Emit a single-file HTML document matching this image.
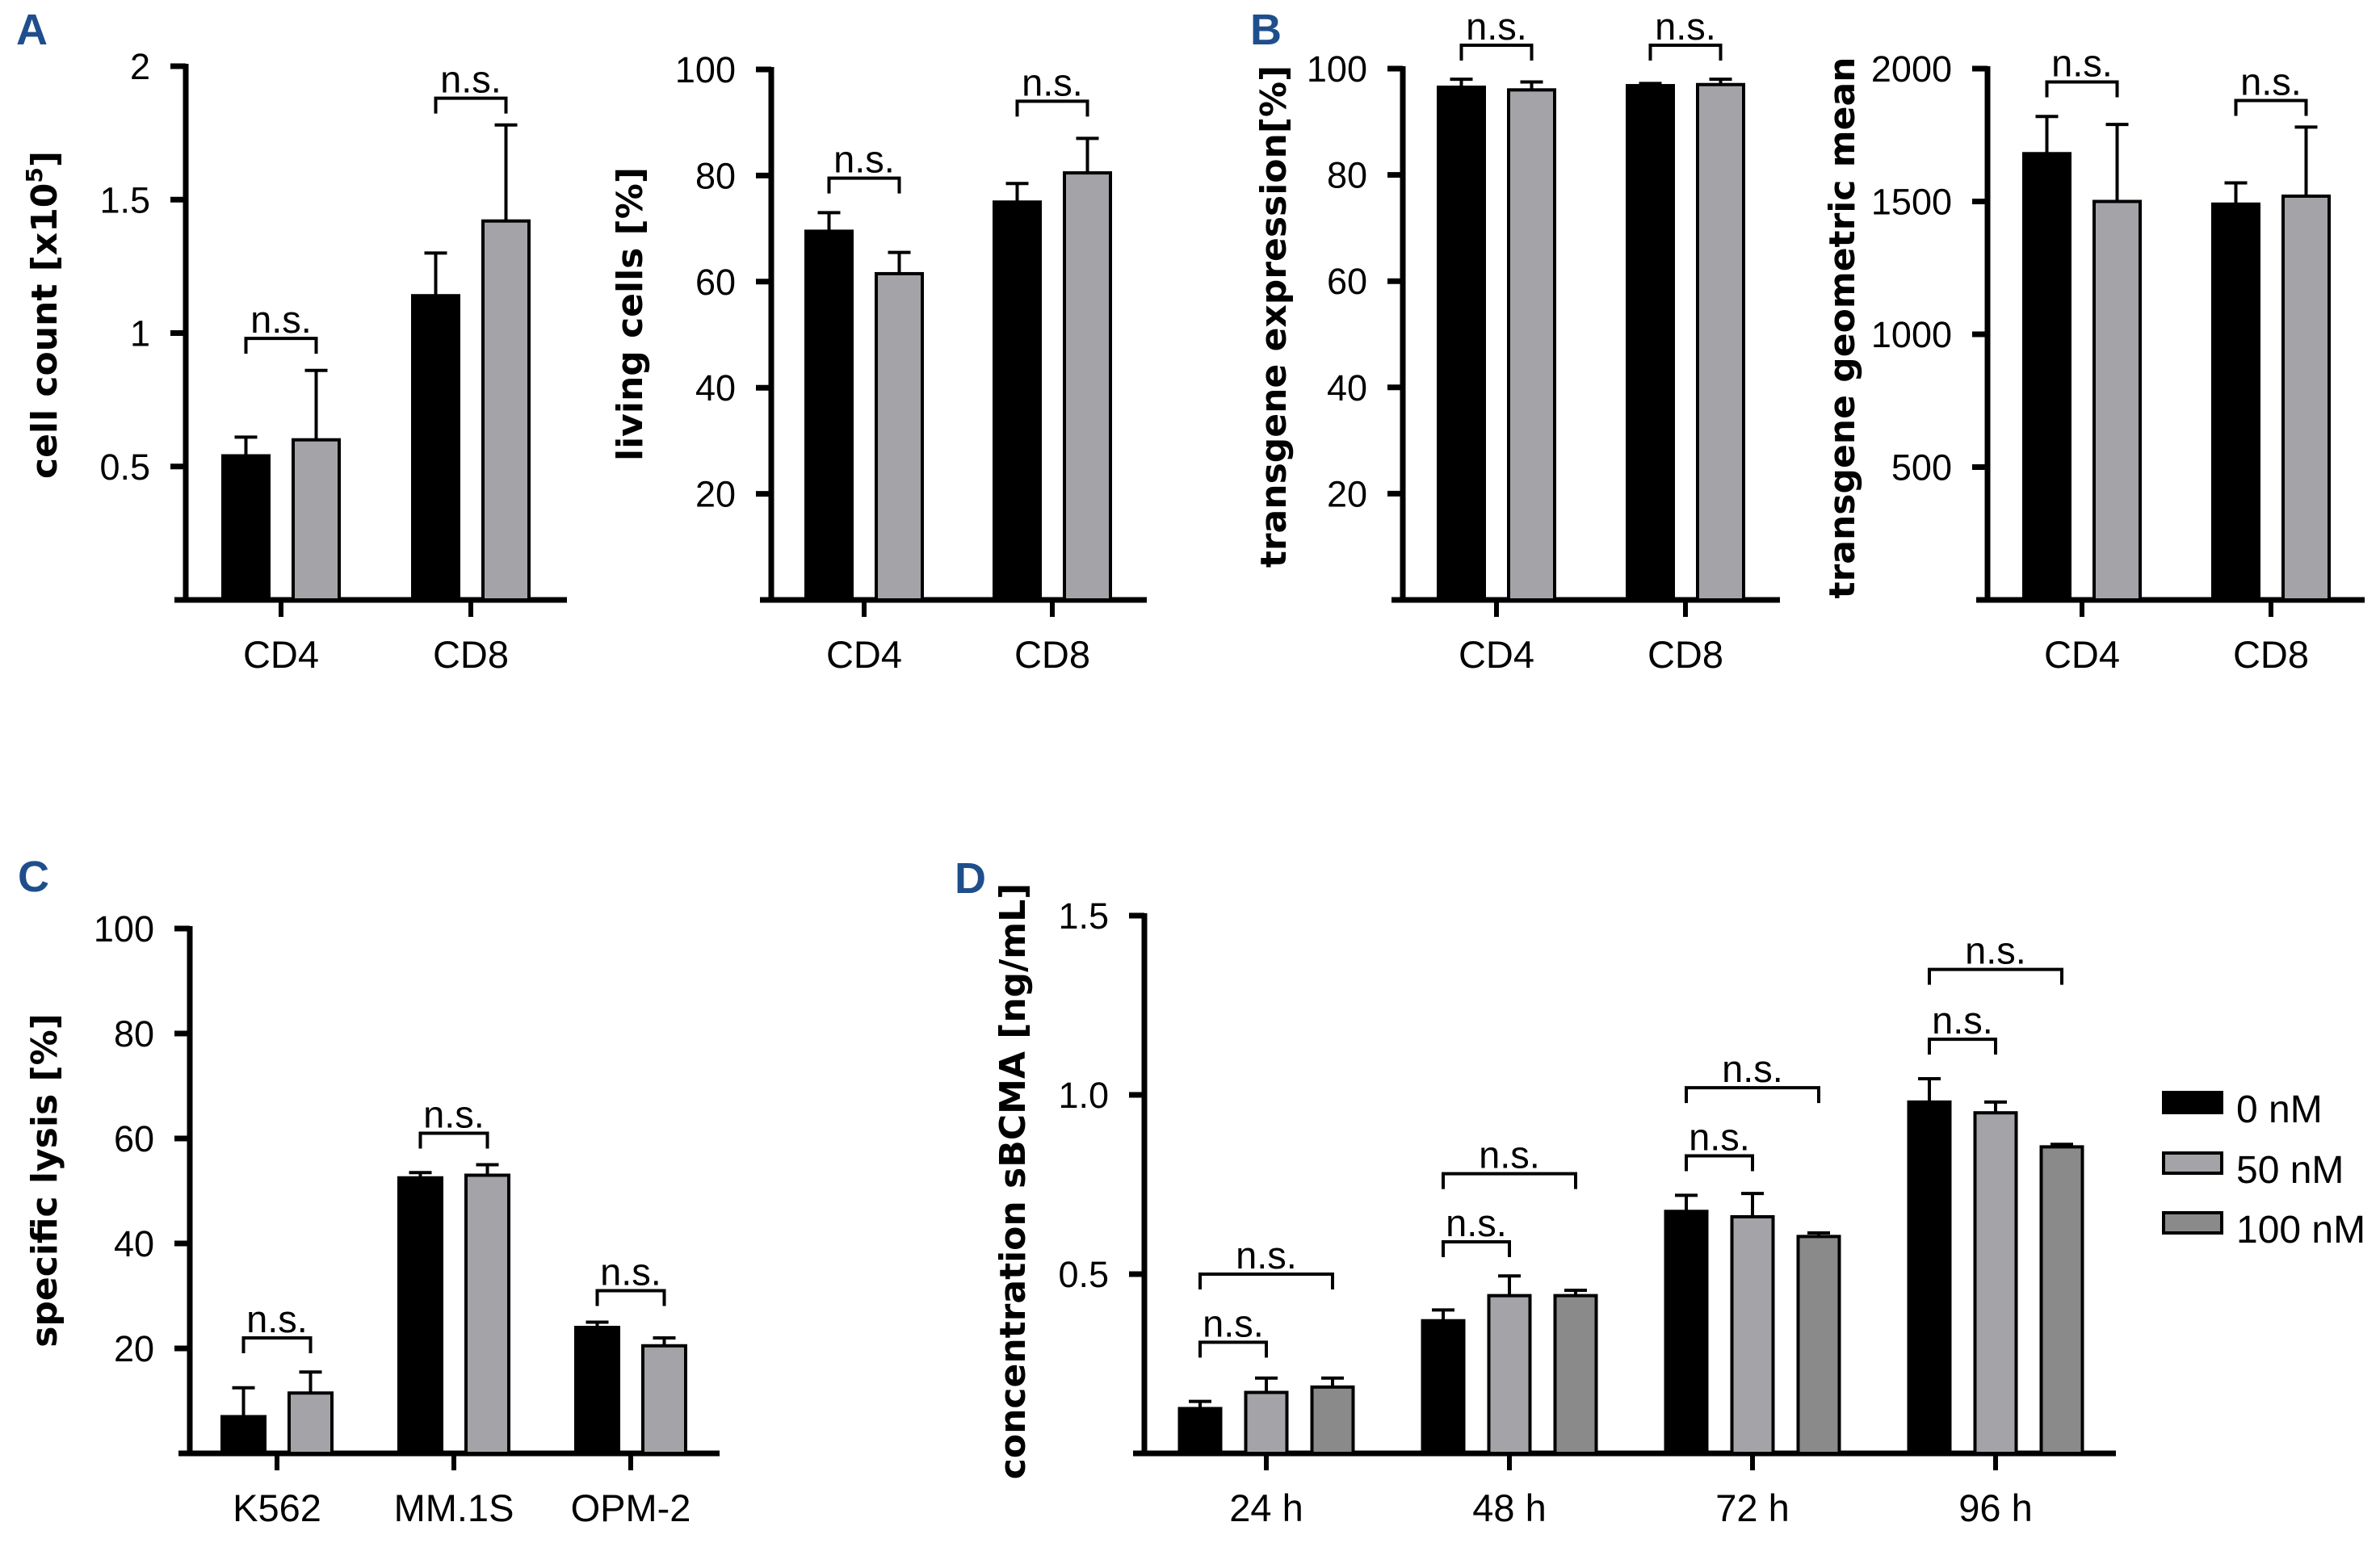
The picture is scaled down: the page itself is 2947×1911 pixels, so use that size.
<!DOCTYPE html>
<html><head><meta charset="utf-8"><style>
html,body{margin:0;padding:0;background:#fff;}
svg{display:block;font-family:"Liberation Sans",Arial,sans-serif;}
</style></head><body>
<svg id="fig" width="2947" height="1911" viewBox="0 0 2947 1911" xmlns="http://www.w3.org/2000/svg">
<text x="20" y="55" font-size="54" font-weight="bold" fill="#1f4e8c">A</text>
<text x="1548" y="55" font-size="54" font-weight="bold" fill="#1f4e8c">B</text>
<text x="22" y="1104" font-size="54" font-weight="bold" fill="#1f4e8c">C</text>
<text x="1182" y="1106" font-size="54" font-weight="bold" fill="#1f4e8c">D</text>
</svg>
<script>
// ---- data ----
const catsA = ["CD4","CD8"];
const cellCountMean = [[0.54,1.14],[0.60,1.42]];
const cellCountErr  = [[0.61,1.30],[0.86,1.78]];
const cellCountTicks = [0.5,1,1.5,2];
const cellCountTickLabels = ["0.5","1","1.5","2"];
const cellCountSig = [[0,0,1,0.98],[1,0,1,1.88]];

const livingMean = [[69.5,75],[61.5,80.5]];
const livingErr  = [[73,78.5],[65.5,87]];
const livingTicks = [20,40,60,80,100];
const livingSig = [[0,0,1,79.5],[1,0,1,94]];

const exprMean = [[96.5,96.8],[96,97]];
const exprErr  = [[98,97.2],[97.5,98]];
const exprTicks = [20,40,60,80,100];
const exprSig = [[0,0,1,104.4],[1,0,1,104.4]];

const geoMean = [[1680,1490],[1500,1520]];
const geoErr  = [[1820,1570],[1790,1780]];
const geoTicks = [500,1000,1500,2000];
const geoSig = [[0,0,1,1950],[1,0,1,1880]];

const catsC = ["K562","MM.1S","OPM-2"];
const lysisMean = [[7,52.5,24],[11.5,53,20.5]];
const lysisErr  = [[12.5,53.5,25],[15.5,55,22]];
const lysisTicks = [20,40,60,80,100];
const lysisSig = [[0,0,1,22],[1,0,1,61],[2,0,1,31]];

const catsD = ["24 h","48 h","72 h","96 h"];
const seriesD = ["0 nM","50 nM","100 nM"];
const sbcmaMean = [[0.125,0.37,0.675,0.98],[0.17,0.44,0.66,0.95],[0.185,0.44,0.605,0.855]];
const sbcmaErr  = [[0.145,0.40,0.72,1.045],[0.21,0.495,0.725,0.98],[0.21,0.455,0.615,0.862]];
const sbcmaTicks = [0.5,1.0,1.5];
const sbcmaTickLabels = ["0.5","1.0","1.5"];
const sbcmaSig = [[0,0,1,0.31],[0,0,2,0.50],[1,0,1,0.59],[1,0,2,0.78],[2,0,1,0.83],[2,0,2,1.02],[3,0,1,1.155],[3,0,2,1.35]];

const NS = "http://www.w3.org/2000/svg";
const svg = document.getElementById('fig');
function mk(tag, attrs, parent){
  const e = document.createElementNS(NS, tag);
  for (const k in attrs) e.setAttribute(k, attrs[k]);
  (parent||svg).appendChild(e);
  return e;
}
const fills = ["#000000","#a3a3a8","#8a8a8a"];

function panel(p){
  const g = mk('g',{});
  
  
  const y = v => p.y0 - (v - p.vmin) / (p.vmax - p.vmin) * (p.y0 - p.yTop);
  const ax = mk('line',{x1:p.ax,y1:y(p.vmax)-3,x2:p.ax,y2:p.y0+3,stroke:'#000','stroke-width':7},g);
  
  
  const xa = mk('line',{x1:p.ax-14,y1:p.y0,x2:p.xEnd,y2:p.y0,stroke:'#000','stroke-width':7},g);
  
  
  p.ticks.forEach((t,i)=>{
    const tk = mk('line',{x1:p.ax-19,y1:y(t),x2:p.ax,y2:y(t),stroke:'#000','stroke-width':7},g);
    
    
    const tl = mk('text',{x:p.ax-44,y:y(t)+16,'text-anchor':'end','font-size':45},g);
    tl.textContent = p.tickLabels ? p.tickLabels[i] : String(t);
    
    
  });
  const nS = p.mean.length;
  p.cats.forEach((c,ci)=>{
    const cx = p.cx0 + ci*p.cstep;
    const ct = mk('line',{x1:cx,y1:p.y0,x2:cx,y2:p.y0+21,stroke:'#000','stroke-width':6},g);
    
    
    const cl = mk('text',{x:cx,y:p.y0+84,'text-anchor':'middle','font-size':47},g);
    cl.textContent = c;
    
    
    for(let s=0;s<nS;s++){
      const bx = cx + (s-(nS-1)/2)*p.bstep;
      const v = p.mean[s][ci], e = p.err[s][ci];
      const el = mk('line',{x1:bx,y1:y(v),x2:bx,y2:y(e),stroke:'#000','stroke-width':4},g);
      
      
      const ec = mk('line',{x1:bx-14,y1:y(e),x2:bx+14,y2:y(e),stroke:'#000','stroke-width':4},g);
      
      
      const r = mk('rect',{x:bx-p.bw/2+2,y:y(v),width:p.bw-4,height:p.y0-y(v),fill:fills[s],stroke:'#000','stroke-width':4},g);
      
      
    }
  });
  p.sig.forEach(sg=>{
    const cx = p.cx0 + sg[0]*p.cstep;
    const xa1 = cx + (sg[1]-(nS-1)/2)*p.bstep, xa2 = cx + (sg[2]-(nS-1)/2)*p.bstep;
    const yy = y(sg[3]);
    const br = mk('path',{d:`M${xa1},${yy+19} V${yy} H${xa2} V${yy+19}`,fill:'none',stroke:'#000','stroke-width':4},g);
    
    
    const t = mk('text',{x:(xa1+xa2)/2,y:yy-7,'text-anchor':'middle','font-size':47},g);
    t.textContent = 'n.s.';
    
    
  });
  const yl = mk('text',{x:0,y:0,'text-anchor':'middle','font-size':44,'font-weight':'bold','font-family':'"DejaVu Sans",sans-serif',transform:`translate(${p.lx},${p.ly}) rotate(-90)`},g);
  yl.innerHTML = p.label;
  
  
}

panel({name:'cell-count-chart',ax:230,yTop:82,y0:743,vmin:0,vmax:2,xEnd:702,ticks:cellCountTicks,tickLabels:cellCountTickLabels,
  cats:catsA,cx0:348,cstep:235,bstep:87,bw:61,mean:cellCountMean,err:cellCountErr,sig:cellCountSig,lx:70,ly:390,
  label:'cell count [x10<tspan font-size="28" dy="-18">5</tspan><tspan dy="18">]</tspan>'});
panel({name:'living-cells-chart',ax:955,yTop:86,y0:743,vmin:0,vmax:100,xEnd:1420,ticks:livingTicks,
  cats:catsA,cx0:1070,cstep:233,bstep:87,bw:61,mean:livingMean,err:livingErr,sig:livingSig,lx:795,ly:389,label:'living cells [%]'});
panel({name:'transgene-expression-chart',ax:1737,yTop:85,y0:743,vmin:0,vmax:100,xEnd:2204,ticks:exprTicks,
  cats:catsA,cx0:1853,cstep:234,bstep:87,bw:61,mean:exprMean,err:exprErr,sig:exprSig,lx:1592,ly:392,label:'transgene expression[%]'});
panel({name:'transgene-geomean-chart',ax:2461,yTop:85,y0:743,vmin:0,vmax:2000,xEnd:2928,ticks:geoTicks,
  cats:catsA,cx0:2578,cstep:234,bstep:87,bw:61,mean:geoMean,err:geoErr,sig:geoSig,lx:2296,ly:406,label:'transgene geometric mean'});
panel({name:'specific-lysis-chart',ax:235,yTop:1150,y0:1800,vmin:0,vmax:100,xEnd:891,ticks:lysisTicks,
  cats:catsC,cx0:343,cstep:219,bstep:83,bw:57,mean:lysisMean,err:lysisErr,sig:lysisSig,lx:70,ly:1462,label:'specific lysis [%]'});
panel({name:'sbcma-chart',ax:1417,yTop:1134,y0:1800,vmin:0,vmax:1.5,xEnd:2620,ticks:sbcmaTicks,tickLabels:sbcmaTickLabels,
  cats:catsD,cx0:1568,cstep:301,bstep:82,bw:55,mean:sbcmaMean,err:sbcmaErr,sig:sbcmaSig,lx:1269,ly:1463,label:'concentration sBCMA [ng/mL]'});

const legendY = [1351,1426,1500];
seriesD.forEach((s,i)=>{
  const r = mk('rect',{x:2679,y:legendY[i]+2,width:72,height:25,fill:fills[i],stroke:'#000','stroke-width':4});
  
  
  const t = mk('text',{x:2769,y:legendY[i]+39,'font-size':48});
  t.textContent = s;
  
  
});
</script>
</body></html>
